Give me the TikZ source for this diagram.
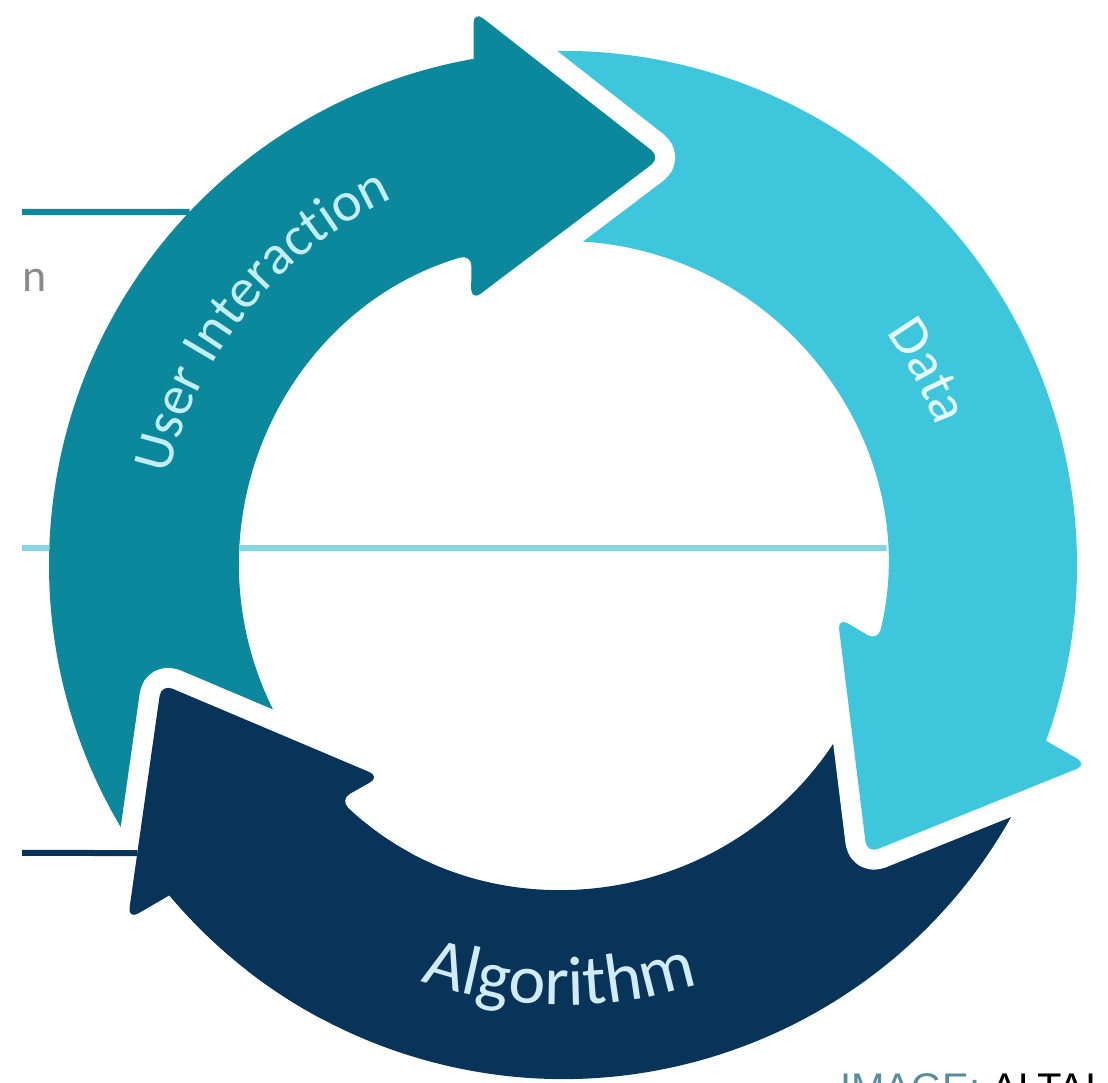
\documentclass[tikz,border=0pt]{standalone}
\usepackage{fontspec}
\setmainfont{Carlito}
\newfontfamily\creditfont{Liberation Sans}
\usetikzlibrary{calc,decorations.text}

\definecolor{uiteal}{HTML}{0B889C}
\definecolor{datacyan}{HTML}{3EC6DD}
\definecolor{algnavy}{HTML}{08345A}
\definecolor{uilabel}{HTML}{C4EEF5}
\definecolor{datalabel}{HTML}{E6F8FC}
\definecolor{alglabel}{HTML}{D2ECF7}
\definecolor{rulecyan}{HTML}{86D5E1}
\definecolor{stubgrey}{HTML}{8A8A8A}
\definecolor{creditteal}{HTML}{5A8D9C}

\newcommand{\rout}{514}
\newcommand{\rin}{324}
\newcommand{\rmid}{419}
\newcommand{\ringfont}{\fontsize{56pt}{62pt}\selectfont}
\newcommand{\bigringfont}{\fontsize{70pt}{76pt}\selectfont}

\tikzset{ring gap/.style={draw=white, line width=40pt, line join=round},
         ring arrow/.style={fill=#1, preaction={ring gap}},
         rule/.style={line width=6pt}}

% one arrow of the ring: style, tip angle, tail angle, name
\newcommand{\ringarrow}[4]{%
  \coordinate (#4tip) at ($(C)+(#2:\rmid)$);
  \coordinate (#4base) at ($(C)+(#2+26:\rmid)$);
  \coordinate (#4ob) at ($(#4base)+(#2+13:145)$);
  \coordinate (#4ib) at ($(#4base)+(#2+193:145)$);
  \path[#1]
    ($(C)+(#3:\rout)$) arc[start angle=#3, end angle=#2+23.5, radius=\rout]
    [rounded corners=12pt] -- (#4ob) -- (#4tip) -- (#4ib)
    -- ($(C)+(#2+29.9:\rin)$) [sharp corners]
    arc[start angle=#2+29.9, end angle=#3, radius=\rin] -- cycle;
}

\begin{document}
\begin{tikzpicture}[x=1pt, y=1pt]
  \useasboundingbox (0,0) rectangle (1108,1083);
  \coordinate (C) at (563,518);

  \ringarrow{ring arrow=algnavy}{-163.5}{-17.5}{alg}
  \ringarrow{ring arrow=datacyan}{-43.5}{102.5}{data}
  \ringarrow{ring arrow=uiteal}{76.5}{222.5}{ui}
  % Algorithm head goes back over the tail of User Interaction
  \begin{scope}
    \clip (C) -- ($(C)+(182:700)$) arc[start angle=182, end angle=232, radius=700] -- cycle;
    \ringarrow{ring gap}{-163.5}{-17.5}{alg}
  \end{scope}
  \begin{scope}
    \clip (C) -- ($(C)+(182:700)$) arc[start angle=182, end angle=242, radius=700] -- cycle;
    \ringarrow{fill=algnavy}{-163.5}{-17.5}{alg}
  \end{scope}

  % rules on the left
  \coordinate (r1a) at (22,871);
  \coordinate (r1b) at ($(C)+(136.6:\rout)$);
  \draw[rule, uiteal] (r1a) -- (r1b);
  \coordinate (r2a) at (22,535);
  \coordinate (r2b) at ($(C)+(178.1:\rout)$);
  \coordinate (r2c) at ($(C)+(177:\rin)$);
  \coordinate (r2d) at ($(C)+(3:\rin)$);
  \draw[rule, rulecyan] (r2a) -- (r2b) (r2c) -- (r2d);
  \coordinate (r3a) at (22,230);
  \coordinate (r3far) at (300,230);
  \coordinate (r3b) at (intersection of r3a--r3far and algob--algtip);
  \draw[rule, algnavy] (r3a) -- (r3b);

  % labels along the ring
  \path[decorate, decoration={text along path, text align=center,
      text color=uilabel, text={|\ringfont|User Interaction}}]
    ($(C)+(205:404)$) arc[start angle=205, end angle=77, radius=404];
  \path[decorate, decoration={text along path, text align=center,
      text color=datalabel, text={|\ringfont|Data}}]
    ($(C)+(85:398)$) arc[start angle=85, end angle=-29, radius=398];
  \path[decorate, decoration={text along path, text align=center,
      text color=alglabel, text={|\bigringfont|Algorithm}}]
    ($(C)+(210:440)$) arc[start angle=210, end angle=329, radius=440];

  \node[anchor=base west, inner sep=0, text=stubgrey,
    font=\fontsize{46pt}{52pt}\selectfont] (stub) at (22,791) {n};
  \node[anchor=base west, inner sep=0,
    font=\creditfont\fontsize{40pt}{48pt}\selectfont] (credit) at (840,-19)
    {\textcolor{creditteal}{IMAGE:} ALTAI};
\end{tikzpicture}
\end{document}
